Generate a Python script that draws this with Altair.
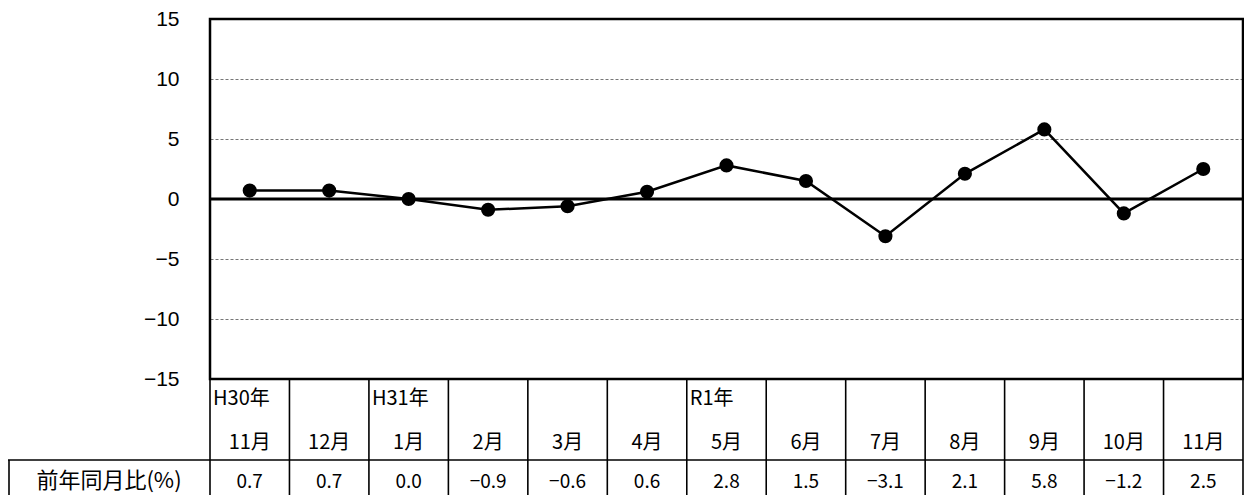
import altair as alt
import pandas as pd

# ---- data ----
years = ["H30年", "", "H31年", "", "", "", "R1年", "", "", "", "", "", ""]
months = ["11月", "12月", "1月", "2月", "3月", "4月", "5月", "6月", "7月", "8月", "9月", "10月", "11月"]
values = [0.7, 0.7, 0.0, -0.9, -0.6, 0.6, 2.8, 1.5, -3.1, 2.1, 5.8, -1.2, 2.5]
row_label = "前年同月比(%)"
y_ticks = [-15, -10, -5, 0, 5, 10, 15]

n = len(months)
df = pd.DataFrame({"i": list(range(n)), "year": years, "month": months, "value": values})
df["left"] = df["i"] - 0.5
df["label"] = [f"{v:.1f}".replace("-", "\u2212") for v in values]
bounds = pd.DataFrame({"b": [i - 0.5 for i in range(n + 1)]})

W, H = 1033, 360
BOT = 116
JP = "Noto Sans CJK JP"
xscale = alt.Scale(domain=[-0.5, n - 0.5], nice=False, zero=False)
yscale = alt.Scale(domain=[-15, 15], nice=False)

X = alt.X("i:Q", scale=xscale, axis=None)
Y = alt.Y(
    "value:Q",
    scale=yscale,
    axis=alt.Axis(
        values=y_ticks, title=None, ticks=False, domain=False,
        labelFont="Liberation Sans", labelFontSize=21, labelColor="black",
        labelPadding=31, gridColor="#777777", gridDash=[3, 2], gridWidth=1,
    ),
)

base = alt.Chart(df)
frame = alt.Chart(pd.DataFrame({"k": [0]})).mark_rect(
    fill="transparent", stroke="black", strokeWidth=2.5
).encode(x=alt.value(0), x2=alt.value(W), y=alt.value(0), y2=alt.value(H))
zero = alt.Chart(pd.DataFrame({"z": [0]})).mark_rule(color="black", strokeWidth=3).encode(
    y=alt.Y("z:Q", scale=yscale)
)
line = base.mark_line(color="black", strokeWidth=2.5).encode(x=X, y=Y)
points = base.mark_point(filled=True, color="black", size=200, opacity=1, shape="circle").encode(
    x=alt.X("i:Q", scale=xscale), y=alt.Y("value:Q", scale=yscale)
)

# ---- data table under the plot ----
vlines = alt.Chart(bounds).mark_rule(color="black", strokeWidth=1.6).encode(
    x=alt.X("b:Q", scale=xscale), y=alt.value(H), y2=alt.value(H + BOT)
)
hline = alt.Chart(pd.DataFrame({"k": [0]})).mark_rule(color="black", strokeWidth=1.6).encode(
    x=alt.value(-202), x2=alt.value(W), y=alt.value(441)
)
lline = alt.Chart(pd.DataFrame({"k": [0]})).mark_rule(color="black", strokeWidth=1.6).encode(
    x=alt.value(-201), y=alt.value(441), y2=alt.value(H + BOT)
)
year_txt = base.mark_text(font=JP, fontSize=20, align="left", baseline="middle", dx=3, color="black").encode(
    x=alt.X("left:Q", scale=xscale), y=alt.value(380), text="year:N"
)
month_txt = base.mark_text(font=JP, fontSize=20, align="center", baseline="middle", color="black").encode(
    x=alt.X("i:Q", scale=xscale), y=alt.value(424), text="month:N"
)
val_txt = base.mark_text(font=JP, fontSize=19, align="center", baseline="middle", color="black").encode(
    x=alt.X("i:Q", scale=xscale), y=alt.value(463), text="label:N"
)
row_txt = alt.Chart(pd.DataFrame({"t": [row_label]})).mark_text(
    font=JP, fontSize=22, align="center", baseline="middle", color="black"
).encode(x=alt.value(-101), y=alt.value(462), text="t:N")

chart = alt.layer(
    line, zero, frame, points, vlines, hline, lline, year_txt, month_txt, val_txt, row_txt
).properties(
    width=W, height=H,
    autosize=alt.AutoSizeParams(type="none"),
    padding={"left": 202, "top": 11, "right": 1, "bottom": BOT},
).configure_view(stroke=None)

chart.save("out.html", embed_options={"renderer": "svg", "actions": False})
